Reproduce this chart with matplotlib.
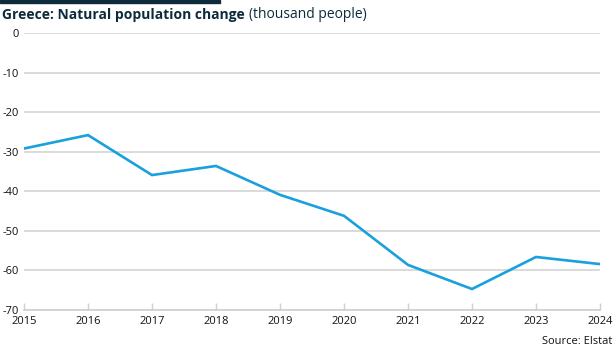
import matplotlib
matplotlib.use("Agg")
import matplotlib.pyplot as plt

# data
years = [2015, 2016, 2017, 2018, 2019, 2020, 2021, 2022, 2023, 2024]
change = [-29.2, -25.8, -35.9, -33.6, -40.9, -46.2, -58.6, -64.7, -56.6, -58.4]
y_ticks = [0, -10, -20, -30, -40, -50, -60, -70]

plt.rcParams['font.family'] = ['Open Sans', 'DejaVu Sans']
plt.rcParams['axes.unicode_minus'] = False

fig = plt.figure(figsize=(6.15, 3.5), dpi=100)
ax = fig.add_axes([24 / 615, 1 - 310 / 350, 576 / 615, 277 / 350])

ax.plot(years, change, color='#1aa0dc', lw=1.9, solid_joinstyle='miter', zorder=3)

ax.set_xlim(years[0], years[-1])
ax.set_ylim(-70, 0)
ax.set_yticks(y_ticks)
ax.set_xticks(years)
ax.set_xticklabels([str(y) for y in years])
ax.grid(axis='y', color='#d4d4d4', lw=1.2)
ax.grid(axis='x', visible=False)
for s in ['top', 'right', 'left']:
    ax.spines[s].set_visible(False)
ax.spines['bottom'].set_color('#cfcfcf')
ax.spines['bottom'].set_linewidth(1.2)
ax.tick_params(axis='y', length=0, pad=4, labelsize=8, colors='#111111')
ax.tick_params(axis='x', length=5, width=1, color='#cfcfcf', pad=4,
               labelsize=8, labelcolor='#111111', direction='in')
ax.set_axisbelow(True)

# top dark bar
fig.patches.append(plt.Rectangle((0, 1 - 3 / 350), 220 / 615, 3 / 350,
                                 transform=fig.transFigure, color='#0d2b3b'))

t1 = fig.text(2 / 615, 1 - 15 / 350, 'Greece: Natural population change',
              fontsize=10, fontweight='bold', color='#0d2b3b', va='center')
fig.canvas.draw()
bb = t1.get_window_extent()
fig.text(bb.x1 / 615 + 4 / 615, 1 - 15 / 350, '(thousand people)',
         fontsize=10, color='#0d2b3b', va='center')

fig.text(612 / 615, 1 - 341 / 350, 'Source: Elstat', fontsize=8,
         color='#111111', ha='right', va='center')

fig.savefig('out.png', dpi=100)
